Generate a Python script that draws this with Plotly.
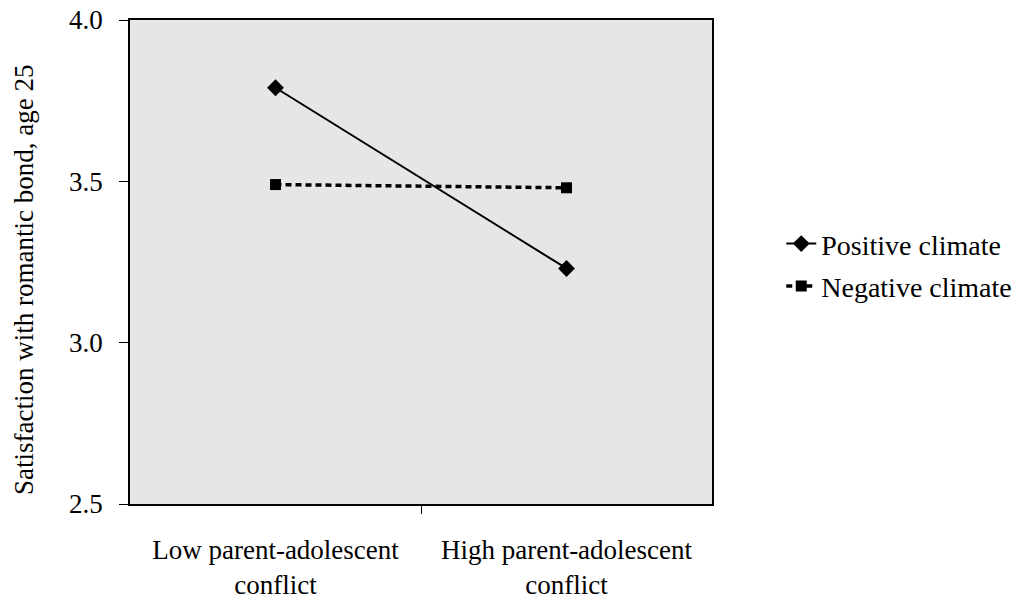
import plotly.graph_objects as go

categories = ["Low parent-adolescent<br>conflict", "High parent-adolescent<br>conflict"]
positive_climate = [3.79, 3.23]
negative_climate = [3.49, 3.48]
y_ticks = [2.5, 3.0, 3.5, 4.0]
y_tick_labels = ["2.5", "3.0", "3.5", "4.0"]
y_title = "Satisfaction with romantic bond, age 25"

FONT = "Liberation Serif"
FS = 27
x_idx = list(range(len(categories)))

fig = go.Figure()
fig.add_trace(go.Scatter(
    x=x_idx, y=positive_climate, name="Positive climate", mode="lines+markers",
    legendgroup="a",
    line=dict(color="black", width=2),
    marker=dict(symbol="diamond", size=13, color="black"),
))
fig.add_trace(go.Scatter(
    x=x_idx, y=negative_climate, name="Negative climate", mode="lines+markers",
    legendgroup="b",
    line=dict(color="black", width=3.5, dash="6px,4px"),
    marker=dict(symbol="square", size=11, color="black"),
))

fig.add_annotation(
    text=y_title, textangle=-90, xref="paper", yref="paper",
    x=-0.182, y=0.463, xanchor="center", yanchor="middle", showarrow=False,
    font=dict(family=FONT, size=27, color="black"),
)

fig.update_layout(
    width=1033, height=600,
    margin=dict(l=130, r=321, t=20, b=96),
    paper_bgcolor="white", plot_bgcolor="#e6e6e6",
    font=dict(family=FONT, size=FS, color="black"),
    showlegend=True,
    legend=dict(x=1.119, y=0.494, xanchor="left", yanchor="middle",
                font=dict(family=FONT, size=28), bgcolor="rgba(0,0,0,0)",
                traceorder="grouped", tracegroupgap=3, itemwidth=30),
    xaxis=dict(
        range=[-0.5, 1.5], tickmode="array", tickvals=x_idx, ticktext=categories,
        ticks="", showgrid=False, zeroline=False, automargin=False,
        showline=True, linecolor="black", linewidth=1.5, mirror=True,
        minor=dict(tickmode="array", tickvals=[0.5], ticks="outside", ticklen=8,
                   tickcolor="black", tickwidth=1, showgrid=False),
        tickfont=dict(family=FONT, size=FS), ticklabelstandoff=21,
    ),
    yaxis=dict(
        range=[2.5, 4.0], tickmode="array", tickvals=y_ticks, ticktext=y_tick_labels,
        ticks="outside", ticklen=9, tickcolor="black", tickwidth=1,
        showgrid=False, zeroline=False, automargin=False,
        showline=True, linecolor="black", linewidth=1.5, mirror=True,
        tickfont=dict(family=FONT, size=FS), ticklabelstandoff=11,
        ticklabeloverflow="allow",
    ),
)

fig.write_html("out.html",
               config={"displayModeBar": False},
               post_script="document.body.style.margin='0';document.body.style.overflow='hidden';")
